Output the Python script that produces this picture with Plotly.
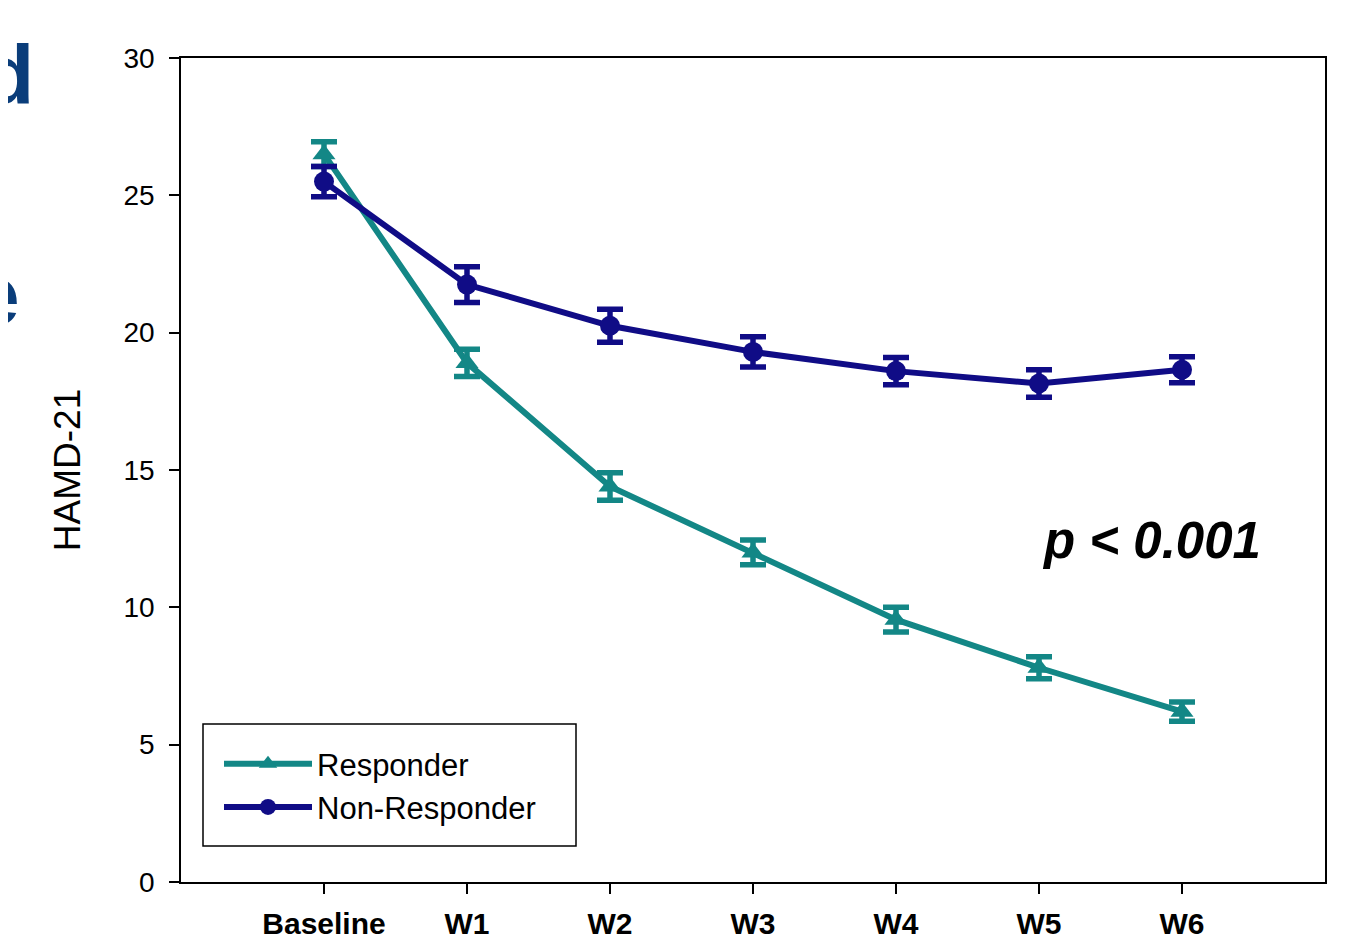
import plotly.graph_objects as go

timepoints = ["Baseline", "W1", "W2", "W3", "W4", "W5", "W6"]
responder = [26.5, 18.9, 14.4, 12.0, 9.55, 7.8, 6.2]
responder_err = [0.45, 0.5, 0.5, 0.45, 0.45, 0.4, 0.35]
non_responder = [25.5, 21.75, 20.25, 19.3, 18.6, 18.15, 18.65]
non_responder_err = [0.55, 0.65, 0.6, 0.55, 0.5, 0.5, 0.47]
y_ticks = [0, 5, 10, 15, 20, 25, 30]

teal = "#138786"
navy = "#100c86"
FONT = "Liberation Sans, Arial, sans-serif"

# plot area in page pixels (reference): x 181..1325, y 58..882
PL, PR, PT, PB = 181, 1325, 58, 882
def px(xp):
    return (xp - PL) / (PR - PL)
def py(yp):
    return (PB - yp) / (PB - PT)

fig = go.Figure()
fig.add_trace(go.Scatter(
    x=timepoints, y=responder, name="Responder", mode="lines+markers",
    line=dict(color=teal, width=6),
    marker=dict(symbol="triangle-up", size=20, color=teal),
    error_y=dict(type="data", array=responder_err, color=teal, thickness=5.5, width=13),
))
fig.add_trace(go.Scatter(
    x=timepoints, y=non_responder, name="Non-Responder", mode="lines+markers",
    line=dict(color=navy, width=6),
    marker=dict(symbol="circle", size=20, color=navy),
    error_y=dict(type="data", array=non_responder_err, color=navy, thickness=5.5, width=13),
))

fig.add_annotation(x=px(1151), y=py(540), xref="paper", yref="paper",
                   xanchor="center", yanchor="middle", text="<b><i>p &lt; 0.001</i></b>",
                   showarrow=False, font=dict(family=FONT, size=51, color="black"))

# cropped slide text at the left edge of the picture
fig.add_annotation(x=px(36), y=py(75), xref="paper", yref="paper",
                   xanchor="right", yanchor="middle", text="<b>d</b>", showarrow=False,
                   font=dict(family=FONT, size=84, color="#0a3d7a"))
fig.add_annotation(x=px(22), y=py(295), xref="paper", yref="paper",
                   xanchor="right", yanchor="middle", text="<b>e</b>", showarrow=False,
                   font=dict(family=FONT, size=84, color="#0a3d7a"))

# legend frame
fig.add_shape(type="rect", xref="paper", yref="paper",
              x0=px(203), x1=px(576), y0=py(846), y1=py(724),
              line=dict(color="black", width=1.5), fillcolor="white", layer="below")

fig.update_layout(
    width=1350, height=935,
    margin=dict(l=173, r=33, t=50, b=61, autoexpand=False),
    paper_bgcolor="white", plot_bgcolor="white",
    font=dict(family=FONT, size=24, color="black"),
    showlegend=True,
    legend=dict(x=px(219), y=py(737), xanchor="left", yanchor="top",
                borderwidth=0, bgcolor="rgba(0,0,0,0)",
                font=dict(family=FONT, size=31, color="black"),
                tracegroupgap=0, itemwidth=88),
    xaxis=dict(type="category", categoryorder="array", categoryarray=timepoints,
               range=[-1, 7], showgrid=False, zeroline=False, automargin=False,
               showline=True, linecolor="black", linewidth=1.5, mirror=True,
               ticks="outside", ticklen=10, tickwidth=1.5, tickcolor="black",
               tickfont=dict(family=FONT, size=30, color="black"),
               ticktext=["<b>%s</b>" % t for t in timepoints], tickvals=timepoints,
               ticklabelstandoff=4),
    yaxis=dict(range=[0, 30], tickvals=y_ticks, showgrid=False, zeroline=False, automargin=False,
               showline=True, linecolor="black", linewidth=1.5, mirror=True,
               ticks="outside", ticklen=10, tickwidth=1.5, tickcolor="black",
               tickfont=dict(family=FONT, size=28, color="black"), ticklabelstandoff=9,
               title=dict(text="HAMD-21", font=dict(family=FONT, size=37, color="black"), standoff=32)),
)

fig.write_html("out.html")
